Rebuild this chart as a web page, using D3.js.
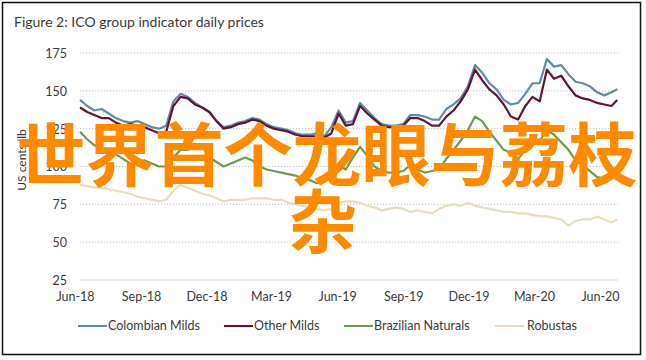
<!DOCTYPE html>
<html>
<head>
<meta charset="utf-8">
<script src="https://cdn.jsdelivr.net/npm/d3@7"></script>
<style>
  html, body { margin: 0; padding: 0; background: #fff; }
  svg { display: block; }
</style>
</head>
<body>
<svg id="chart" width="646" height="360"></svg>
<script>
const dates = [
  "2018-06-08","2018-06-18","2018-06-28","2018-07-08","2018-07-18","2018-07-28","2018-08-07","2018-08-17",
  "2018-08-27","2018-09-06","2018-09-16","2018-09-26","2018-10-06","2018-10-16","2018-10-26","2018-11-05",
  "2018-11-15","2018-11-25","2018-12-05","2018-12-15","2018-12-25","2019-01-04","2019-01-14","2019-01-24",
  "2019-02-03","2019-02-13","2019-02-23","2019-03-05","2019-03-15","2019-03-25","2019-04-04","2019-04-14",
  "2019-04-24","2019-05-04","2019-05-14","2019-05-24","2019-06-03","2019-06-13","2019-06-23","2019-07-03",
  "2019-07-13","2019-07-23","2019-08-02","2019-08-12","2019-08-22","2019-09-01","2019-09-11","2019-09-21",
  "2019-10-01","2019-10-11","2019-10-21","2019-10-31","2019-11-10","2019-11-20","2019-11-30","2019-12-10",
  "2019-12-20","2019-12-30","2020-01-09","2020-01-19","2020-01-29","2020-02-08","2020-02-18","2020-02-28",
  "2020-03-09","2020-03-19","2020-03-29","2020-04-08","2020-04-18","2020-04-28","2020-05-08","2020-05-18",
  "2020-05-28","2020-06-07","2020-06-17","2020-06-25"
];
const colombianMilds = [
  144,140,137,138,135,132,130,129,130,128,126,125,127,143,148,146,
  142,139,136,130,126,127,129,130,132,131,128,126,125,124,122,121,
  121,122,120,126,137,129,130,142,137,132,128,127,127,128,134,134,
  133,131,131,138,141,145,153,167,162,155,151,144,141,142,148,155,
  155,171,166,167,161,156,155,153,149,147,149,151
];
const otherMilds = [
  139,136,134,132,132,129,127,128,127,126,124,122,123,140,146,145,
  141,139,136,130,125,126,128,129,131,130,127,125,124,123,121,120,
  120,120,119,122,135,127,128,140,135,131,127,126,126,127,132,132,
  130,127,127,133,137,143,151,164,157,151,147,141,133,131,140,146,
  143,164,158,160,153,147,145,144,142,141,140,144
];
const brazilianNaturals = [
  123,118,114,112,111,108,105,102,103,104,102,100,100,106,111,111,
  113,114,106,103,100,102,104,106,104,100,98,97,96,95,94,92,
  91,89,91,96,101,98,106,113,107,100,97,96,96,97,101,98,
  96,97,98,105,111,117,124,133,130,123,117,111,109,105,111,117,
  117,124,121,116,111,104,101,97,93,92,93,93
];
const robustas = [
  88,87,86,86,85,84,83,82,80,79,78,77,78,84,88,86,
  84,82,81,79,77,78,78,78,79,79,79,78,78,76,75,74,
  73,72,71,72,76,77,77,76,74,73,71,72,73,72,70,71,
  70,69,72,74,75,74,76,74,73,72,71,70,70,69,69,68,
  67,67,66,65,61,64,65,65,67,65,63,65
];
const seriesNames = ["Colombian Milds","Other Milds","Brazilian Naturals","Robustas"];
const seriesColors = ["#5b8ea5","#6a0f35","#6c9b4b","#e9dcbc"];
const yTicks = [25,50,75,100,125,150,175];
const xTickDates = ["2018-06-01","2018-09-01","2018-12-01","2019-03-01","2019-06-01","2019-09-01","2019-12-01","2020-03-01","2020-06-01"];
const xTickLabels = ["Jun-18","Sep-18","Dec-18","Mar-19","Jun-19","Sep-19","Dec-19","Mar-20","Jun-20"];
const titleText = "Figure 2: ICO group indicator daily prices";
const yAxisTitle = "US cents/lb";
const overlayLines = ["世界首个龙眼与荔枝","杂"];

const parse = d3.timeParse("%Y-%m-%d");
const svg = d3.select("#chart");
const font = "Lato, 'Open Sans', sans-serif";
const textColor = "#3a3a3a";

const plotLeft = 80, plotRight = 618;
const x = d3.scaleTime()
  .domain([parse("2018-06-01"), parse("2020-06-01")])
  .range([75, 600]);
const y = d3.scaleLinear().domain([25, 175]).range([280, 53]);

// frame
svg.append("rect").attr("x", 2.5).attr("y", 2.5).attr("width", 638).attr("height", 352)
  .attr("fill", "#fff").attr("stroke", "#111").attr("stroke-width", 1.5);

// title
svg.append("text").attr("x", 14).attr("y", 27).text(titleText)
  .attr("font-family", font).attr("font-size", 14).attr("fill", textColor);

// gridlines
const grid = svg.append("g");
grid.selectAll("line").data(yTicks).join("line")
  .attr("x1", plotLeft).attr("x2", plotRight)
  .attr("y1", d => y(d)).attr("y2", d => y(d))
  .attr("stroke", d => d === 25 ? "#d9d9d9" : "#c4c4c4")
  .attr("stroke-width", 1)
  .attr("stroke-dasharray", d => d === 25 ? null : "1.2,1.8");

// y axis
const yAxis = d3.axisLeft(y).tickValues(yTicks).tickSize(0).tickPadding(0);
const gy = svg.append("g").attr("transform", "translate(67,0)").call(yAxis);
gy.select(".domain").remove();
gy.selectAll("text").attr("font-family", font).attr("font-size", 12.5).attr("fill", textColor)
  .attr("dy", "0.35em");

// x axis
const xAxis = d3.axisBottom(x).tickValues(xTickDates.map(parse))
  .tickFormat((d, i) => xTickLabels[i]).tickSize(0).tickPadding(0);
const gx = svg.append("g").attr("transform", "translate(0,292)").call(xAxis);
gx.select(".domain").remove();
gx.selectAll("text").attr("font-family", font).attr("font-size", 12.5).attr("fill", textColor);

// y axis title
svg.append("text").attr("transform", "translate(26,160) rotate(-90)")
  .attr("text-anchor", "middle").text(yAxisTitle)
  .attr("font-family", font).attr("font-size", 12).attr("fill", textColor);

// lines
const allSeries = [colombianMilds, otherMilds, brazilianNaturals, robustas];
const line = d3.line().x((d, i) => x(parse(dates[i]))).y(d => y(d)).curve(d3.curveLinear);
const drawOrder = [3, 2, 0, 1];
drawOrder.forEach(si => {
  svg.append("path").datum(allSeries[si]).attr("d", line)
    .attr("fill", "none").attr("stroke", seriesColors[si]).attr("stroke-width", 2.2)
    .attr("stroke-linejoin", "round");
});

// legend
const legendItems = [
  { name: seriesNames[0], color: seriesColors[0], x: 78 },
  { name: seriesNames[1], color: seriesColors[1], x: 224 },
  { name: seriesNames[2], color: seriesColors[2], x: 344 },
  { name: seriesNames[3], color: seriesColors[3], x: 495 }
];
const lg = svg.append("g").attr("transform", "translate(0,326)");
legendItems.forEach((it, i) => {
  lg.append("line").attr("x1", it.x).attr("x2", it.x + 29).attr("y1", 0).attr("y2", 0)
    .attr("stroke", it.color).attr("stroke-width", 2);
  lg.append("text").attr("x", it.x + (i === 3 ? 32 : 30)).attr("y", 0).attr("dy", "0.35em")
    .text(it.name).attr("font-family", font).attr("font-size", 12.5).attr("fill", textColor);
});

// overlay orange text
const ov = svg.append("g");
ov.append("text").attr("x", 327).attr("y", 181).attr("text-anchor", "middle")
  .text(overlayLines[0]).attr("font-family", "'Noto Sans CJK SC', sans-serif")
  .attr("font-weight", 700).attr("font-size", 69).attr("fill", "#ff8a00");
ov.append("text").attr("x", 323).attr("y", 248).attr("text-anchor", "middle")
  .text(overlayLines[1]).attr("font-family", "'Noto Sans CJK SC', sans-serif")
  .attr("font-weight", 700).attr("font-size", 69).attr("fill", "#ff8a00");
</script>
</body>
</html>
